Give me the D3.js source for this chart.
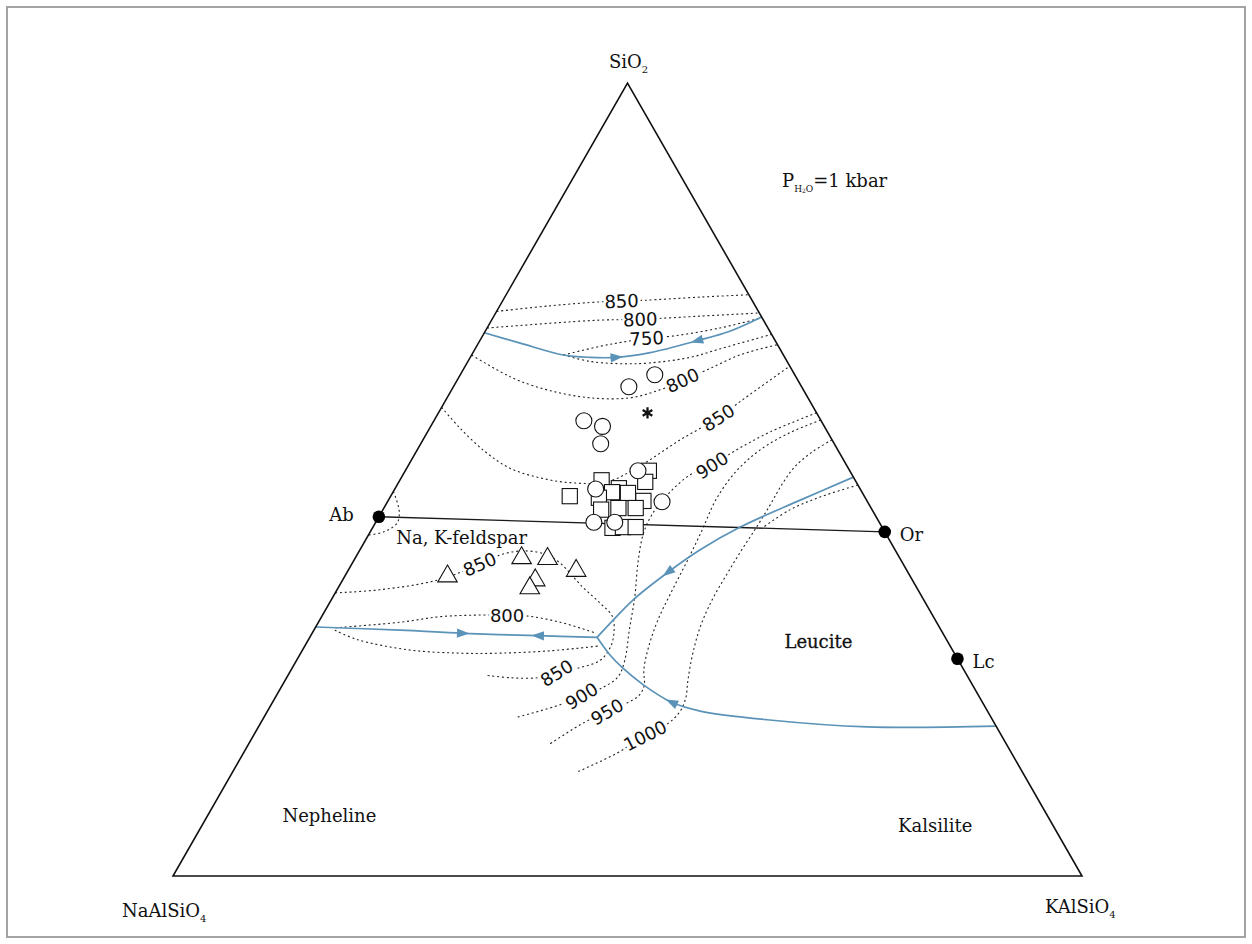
<!DOCTYPE html>
<html>
<head>
<meta charset="utf-8">
<title>NaAlSiO4 – KAlSiO4 – SiO2 liquidus, PH2O = 1 kbar</title>
<script src="https://cdn.jsdelivr.net/npm/d3@7"></script>
<style>
  html, body { margin: 0; padding: 0; background: #ffffff; }
  svg { display: block; }
  .serif { font-family: "DejaVu Serif", "Liberation Serif", serif; fill: #111; }
  .iso-label { font-family: "DejaVu Sans", "Liberation Sans", sans-serif; fill: #111;
               stroke: #ffffff; stroke-width: 6px; paint-order: stroke; stroke-linejoin: round; }
</style>
</head>
<body>
<svg id="chart" width="1252" height="944"></svg>
<script>
// Compositions are wt% pairs [SiO2, KAlSiO4]; NaAlSiO4 makes up the remainder.

// Phases on the Ne–Ks–Q boundaries
const phaseNames = ["Ab", "Or", "Lc"];
const phaseComps = [[45.3, 0.0], [43.4, 56.6], [27.4, 72.6]];

// Cotectic (field boundary) curves
const cotecticQtzFsp = [[68.5, 0], [67.2, 4.6], [65.7, 10.1], [65.4, 13.2], [65.4, 16.1],
                        [66.0, 19.5], [67.5, 23.9], [68.7, 26.9], [70.5, 29.5]];
const cotecticNeFsp  = [[31.4, 0], [31.0, 9.5], [30.6, 16.6], [30.3, 25.0], [30.1, 31.6]];
const cotecticFspLc  = [[30.1, 31.6], [32.3, 32.3], [34.8, 33.2], [38.3, 35.3], [41.1, 37.4],
                        [44.0, 40.4], [47.4, 45.3], [50.3, 49.7]];
const cotecticLcNe   = [[30.1, 31.6], [27.9, 34.1], [26.2, 36.4], [24.1, 39.7], [21.9, 43.9],
                        [20.8, 47.6], [19.7, 55.5], [18.8, 67.0], [18.9, 81.1]];

// Falling-temperature arrows: [curve, vertex index, +1 forward / -1 backward]
const cotecticArrows = [["qtzFsp", 4, 1], ["qtzFsp", 6, -1], ["neFsp", 2, 1],
                        ["neFsp", 3, -1], ["fspLc", 3, -1], ["lcNe", 4, -1]];

// Liquidus isotherms (°C)
const iso850Q   = [[71.2, 0], [71.9, 5.5], [72.4, 10.8], [72.5, 13.1], [72.6, 15.6], [73.0, 21.5], [73.3, 26.7]];
const iso800Q   = [[69.1, 0], [69.7, 6.6], [70.1, 11.9], [70.2, 16.3], [70.6, 22.7], [71.0, 29.0]];
const iso750Up  = [[65.7, 10.1], [66.8, 13.6], [67.3, 15.7], [67.8, 18.2], [68.1, 21.0], [69.1, 25.6], [70.4, 29.6]];
const iso750Low = [[65.7, 10.1], [64.9, 13.4], [64.6, 16.9], [64.7, 20.1], [65.4, 24.2], [66.5, 27.0], [68.3, 31.7]];
const iso800F   = [[65.7, 0], [63.6, 4.2], [62.4, 7.0], [61.2, 10.9], [60.3, 15.7], [60.3, 20.1], [61.3, 22.9],
                   [62.5, 24.8], [63.8, 26.8], [65.7, 29.5], [67.0, 33.0]];
const iso850F   = [[59.1, 0], [56.5, 3.3], [53.5, 7.6], [51.4, 11.4], [50.2, 15.3], [49.6, 18.9], [49.7, 22.9],
                   [51.7, 25.5], [55.0, 28.3], [57.8, 31.1], [60.0, 32.6], [64.3, 35.7]];
const iso900    = [[58.4, 41.6], [56.0, 37.7], [53.5, 34.9], [51.8, 33.4], [50.6, 31.6], [48.2, 30.4], [45.5, 29.9],
                   [43.0, 30.2], [39.5, 31.4], [35.2, 33.2], [31.0, 34.7], [27.2, 36.1], [25.1, 36.4], [23.7, 35.3],
                   [22.7, 33.6], [21.6, 31.8], [20.0, 27.8]];
const iso950    = [[57.5, 42.5], [55.9, 39.9], [53.7, 37.7], [50.9, 36.4], [47.4, 36.0], [43.6, 36.4], [39.8, 36.7],
                   [36.1, 36.9], [32.3, 37.2], [28.8, 37.9], [26.0, 38.8], [24.1, 39.8], [22.8, 39.9], [21.8, 39.0],
                   [20.7, 37.4], [19.4, 35.6], [16.5, 33.0]];
const iso1000   = [[55.0, 45.0], [53.5, 43.6], [51.6, 42.6], [49.3, 42.3], [46.8, 42.3], [44.0, 42.2], [41.1, 42.0],
                   [38.0, 41.9], [34.8, 41.9], [31.4, 42.3], [27.9, 43.2], [24.7, 44.3], [22.4, 45.2], [20.7, 45.4],
                   [19.2, 44.8], [17.7, 43.1], [15.5, 41.1], [13.1, 37.9]];
const isoLcTail = [[49.3, 50.7], [47.8, 47.3], [46.2, 44.8], [43.9, 42.9]];
const iso850Ne  = [[35.7, 0], [36.1, 4.7], [37.3, 10.4], [39.3, 14.1], [40.6, 16.0], [41.0, 18.2], [40.6, 20.6],
                   [39.5, 22.8], [36.4, 26.9], [34.4, 29.8], [32.7, 32.0], [30.6, 33.2], [28.8, 33.7], [27.2, 33.4],
                   [26.2, 31.4], [25.6, 29.4], [25.0, 27.6], [25.0, 24.6], [25.3, 21.9]];
const iso800NeUp  = [[31.3, 2.2], [32.0, 9.0], [32.7, 13.0], [32.9, 17.0], [32.9, 20.3], [32.8, 22.5], [32.0, 26.6], [30.6, 31.3]];
const iso800NeLow = [[31.0, 2.3], [29.8, 5.4], [28.5, 11.8], [28.1, 17.5], [28.1, 21.9], [28.4, 27.3], [29.0, 32.3]];
const isoAbSaddle = [[48.5, 0], [47.0, 1.2], [45.8, 2.0], [44.5, 2.4], [43.4, 1.5], [43.0, 0]];

// Isotherm table: [temperature, points, labelled vertex indices]
const isotherms = [
  [850, iso850Q, [3]], [800, iso800Q, [3]], [750, iso750Up, [3]], [750, iso750Low, []],
  [800, iso800F, [7]], [850, iso850F, [9]], [900, iso900, [3, 14]], [950, iso950, [14]],
  [1000, iso1000, [15]], [1000, isoLcTail, []], [850, iso850Ne, [3, 15]],
  [800, iso800NeUp, [4]], [800, iso800NeLow, []], [null, isoAbSaddle, []]
];

// Analysed rocks
const circleSamples = [[61.7, 19.3], [63.2, 21.4], [57.4, 16.5], [56.7, 18.9], [54.5, 19.8],
                       [51.1, 25.6], [48.8, 22.1], [47.2, 30.2], [44.6, 24.0], [44.6, 26.3]];
const squareSamples = [[47.9, 19.7], [49.9, 22.2], [51.1, 26.8], [49.7, 27.1], [48.9, 24.6], [48.4, 24.1],
                       [48.3, 25.9], [47.3, 28.1], [47.7, 23.0], [46.4, 25.8], [46.4, 27.7], [46.2, 24.0],
                       [43.9, 26.4], [44.0, 27.5], [44.0, 28.9]];
const triangleSamples = [[37.8, 11.3], [40.1, 18.3], [40.0, 21.2], [38.5, 25.1], [37.3, 21.2], [36.3, 21.1]];
const starSample = [[58.4, 23.0]];

// Primary phase fields
const fieldLabels = [["Nepheline", 7.6, 13.4], ["Kalsilite", 6.3, 80.7],
                     ["Leucite", 29.6, 56.2], ["Na, K-feldspar", 42.7, 10.4]];

// ---------------------------------------------------------------------------
const svg = d3.select("#chart");

// Ternary projection: KAlSiO4 + SiO2/2 along the base, SiO2 upward
const xs = d3.scaleLinear().domain([0, 100]).range([173, 1082]);
const ys = d3.scaleLinear().domain([0, 100]).range([876, 83]);
const proj = ([q, k]) => [xs(k + q / 2), ys(q)];

const curve = d3.line()
  .x(d => proj(d)[0]).y(d => proj(d)[1])
  .curve(d3.curveCatmullRom.alpha(0.5));
const straight = d3.line().x(d => proj(d)[0]).y(d => proj(d)[1]);

// outer frame
svg.append("rect")
  .attr("x", 7).attr("y", 7).attr("width", 1238).attr("height", 930)
  .attr("fill", "none").attr("stroke", "#a3a3a3").attr("stroke-width", 2);

// isotherms
const gIso = svg.append("g");
isotherms.forEach(([t, pts]) => {
  gIso.append("path").attr("d", curve(pts))
    .attr("fill", "none").attr("stroke", "#222")
    .attr("stroke-width", 1.1).attr("stroke-dasharray", "2,2.8");
});

// isotherm labels, with their own text orientation
const labelAngles = {
  "0-3": -2, "1-3": -2, "2-3": -3, "4-7": -25, "5-9": -33, "6-3": -33, "6-14": -32,
  "7-14": -30, "8-15": -27, "10-3": -23, "10-15": -32, "11-4": 0
};
isotherms.forEach(([t, pts, idxs], i) => {
  idxs.forEach(k => {
    const [px, py] = proj(pts[k]);
    gIso.append("text").attr("class", "iso-label")
      .attr("transform", `translate(${px},${py}) rotate(${labelAngles[i + "-" + k] || 0})`)
      .attr("text-anchor", "middle").attr("dy", "0.36em")
      .attr("font-size", 18).text(t);
  });
});

// Ab–Or join
svg.append("path").attr("d", straight([phaseComps[0], phaseComps[1]]))
  .attr("stroke", "#1a1a1a").attr("stroke-width", 1.3).attr("fill", "none");

// cotectics
const blue = "#5a92b8";
const cotectics = { qtzFsp: cotecticQtzFsp, neFsp: cotecticNeFsp, fspLc: cotecticFspLc, lcNe: cotecticLcNe };
const gCot = svg.append("g");
Object.values(cotectics).forEach(pts => {
  gCot.append("path").attr("d", curve(pts))
    .attr("fill", "none").attr("stroke", blue).attr("stroke-width", 1.7);
});
cotecticArrows.forEach(([name, k, dir]) => {
  const pts = cotectics[name];
  const [px, py] = proj(pts[k]);
  const a = proj(pts[k - 1]), b = proj(pts[k + 1]);
  const ang = Math.atan2((b[1] - a[1]) * dir, (b[0] - a[0]) * dir) * 180 / Math.PI;
  gCot.append("path").attr("d", "M6.5,0 L-6,-4.6 L-6,4.6 Z")
    .attr("transform", `translate(${px},${py}) rotate(${ang})`)
    .attr("fill", blue);
});

// samples
const gS = svg.append("g").attr("fill", "#fff").attr("stroke", "#111").attr("stroke-width", 1.1);
gS.selectAll(".sq").data(squareSamples).join("rect")
  .attr("x", d => proj(d)[0] - 7.6).attr("y", d => proj(d)[1] - 7.6)
  .attr("width", 15.2).attr("height", 15.2);
gS.selectAll(".ci").data(circleSamples).join("circle")
  .attr("cx", d => proj(d)[0]).attr("cy", d => proj(d)[1]).attr("r", 8);
const tri = d3.symbol().type(d3.symbolTriangle).size(165);
gS.selectAll(".tr").data(triangleSamples).join("path")
  .attr("d", tri).attr("transform", d => `translate(${proj(d)})`);
starSample.forEach(d => {
  const [px, py] = proj(d);
  [90, 30, -30].forEach(deg => {
    const r = 5.6, a = deg * Math.PI / 180;
    svg.append("line")
      .attr("x1", px - r * Math.cos(a)).attr("y1", py - r * Math.sin(a))
      .attr("x2", px + r * Math.cos(a)).attr("y2", py + r * Math.sin(a))
      .attr("stroke", "#111").attr("stroke-width", 2.3);
  });
});

// triangle frame
svg.append("path").attr("d", straight([[0, 0], [0, 100], [100, 0]]) + "Z")
  .attr("fill", "none").attr("stroke", "#111").attr("stroke-width", 1.6)
  .attr("stroke-linejoin", "miter");

// phase points and their names
const phaseOffsets = [[-25, 4, "end"], [15, 9, "start"], [15, 9, "start"]];
phaseComps.forEach((c, i) => {
  const [px, py] = proj(c);
  svg.append("circle").attr("cx", px).attr("cy", py).attr("r", 6.3).attr("fill", "#000");
  svg.append("text").attr("class", "serif").attr("font-size", 18)
    .attr("x", px + phaseOffsets[i][0]).attr("y", py + phaseOffsets[i][1])
    .attr("text-anchor", phaseOffsets[i][2]).text(phaseNames[i]);
});

// field names
fieldLabels.forEach(([name, q, k]) => {
  const [px, py] = proj([q, k]);
  const t = svg.append("text").attr("class", "serif").attr("font-size", 18)
    .attr("x", px).attr("y", py).attr("dy", "0.35em")
    .attr("text-anchor", "middle").text(name);
  if (name === "Leucite") t.attr("stroke", "#111").attr("stroke-width", 0.3);
});

// apex labels with subscripts
function formula(x, y, anchor, parts) {
  const t = svg.append("text").attr("class", "serif").attr("font-size", 18)
    .attr("x", x).attr("y", y).attr("text-anchor", anchor);
  parts.forEach(([s, size, dy]) => t.append("tspan").attr("font-size", size).attr("dy", dy).text(s));
  return t;
}
const apexQ = proj([100, 0]), apexNe = proj([0, 0]), apexKs = proj([0, 100]);
formula(apexQ[0] + 1, apexQ[1] - 15, "middle", [["SiO", 18, 0], ["2", 10, 5]]);
formula(apexNe[0] - 51, apexNe[1] + 41, "start", [["NaAlSiO", 18, 0], ["4", 10, 5]]);
formula(apexKs[0] - 37, apexKs[1] + 37, "start", [["KAlSiO", 18, 0], ["4", 10, 5]]);

// water pressure
formula(782, 187, "start", [["P", 18, 0], ["H", 9, 5], ["2", 6, 1], ["O", 9, -1], ["=1 kbar", 18, -5]]);
</script>
</body>
</html>
